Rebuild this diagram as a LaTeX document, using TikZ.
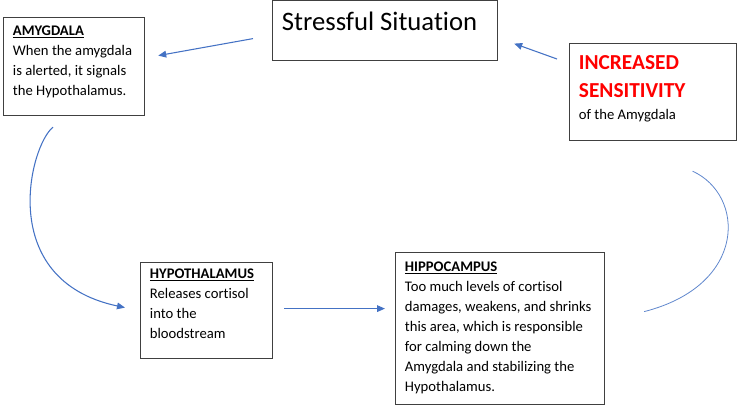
\documentclass[tikz,border=0pt]{standalone}
\usepackage{fontspec}
\setmainfont{Carlito}[Ligatures=CommonOff]
\usetikzlibrary{arrows.meta,calc}
\definecolor{wordblue}{HTML}{4472C4}
\definecolor{frame}{HTML}{404040}
\definecolor{alertred}{HTML}{FF0000}
\newcommand{\boxtext}[3]{\parbox[t][#2][t]{#1}{\raggedright #3}}
\begin{document}
\begin{tikzpicture}[x=0.75pt,y=-0.75pt,
    font=\fontsize{11}{15}\selectfont,
    box/.style={draw=frame,line width=0.9pt,anchor=north west,
                inner xsep=7pt,inner ysep=4pt},
    arr/.style={-{Triangle[length=6pt,width=5pt]},wordblue,line width=0.8pt},
    link/.style={wordblue!85,line width=0.6pt}]
  \useasboundingbox (0,0) rectangle (738,412);
  \node[box,inner ysep=8.5pt] (sit) at (272,0)
    {\boxtext{154.75pt}{28pt}{\fontsize{20}{24}\selectfont Stressful Situation}};
  \node[box,inner ysep=6.25pt] (amy) at (3,17)
    {\boxtext{91.75pt}{61pt}{\underline{\textbf{AMYGDALA}}\\When the amygdala\\is alerted, it signals\\the Hypothalamus.}};
  \node[box,inner ysep=9.25pt] (inc) at (569,43)
    {\boxtext{111.25pt}{54.25pt}{{\fontsize{16}{20.5}\selectfont\bfseries\color{alertred}INCREASED\\SENSITIVITY\par}\vspace{2pt}of the Amygdala}};
  \node[box,inner ysep=4.75pt] (hypo) at (140,262)
    {\boxtext{85pt}{62.5pt}{\underline{\textbf{HYPOTHALAMUS}}\\Releases cortisol\\into the\\bloodstream}};
  \node[box,inner ysep=7pt] (hippo) at (395,252)
    {\boxtext{142.75pt}{100pt}{\underline{\textbf{HIPPOCAMPUS}}\\Too much levels of cortisol\\damages, weakens, and shrinks\\this area, which is responsible\\for calming down the\\Amygdala and stabilizing the\\Hypothalamus.}};
  % cycle of arrows
  \draw[arr] ($(sit.west)+(-19,8)$) -- ($(amy.east)+(13,-11)$);
  \draw[arr] ($(inc.north west)+(-12,16)$) -- ($(sit.east)+(16,13)$);
  \draw[arr] ($(amy.south west)+(50,11)$) .. controls (30,145) and (-5,280) .. ($(hypo.west)+(-15,-3)$);
  \draw[arr] ($(hypo.east)+(11,-2)$) -- ($(hippo.west)+(-10,-20)$);
  \draw[link] ($(inc.south)+(39.5,30)$) .. controls (745,195) and (748,285) .. ($(hippo.east)+(39,-17)$);
\end{tikzpicture}
\end{document}
